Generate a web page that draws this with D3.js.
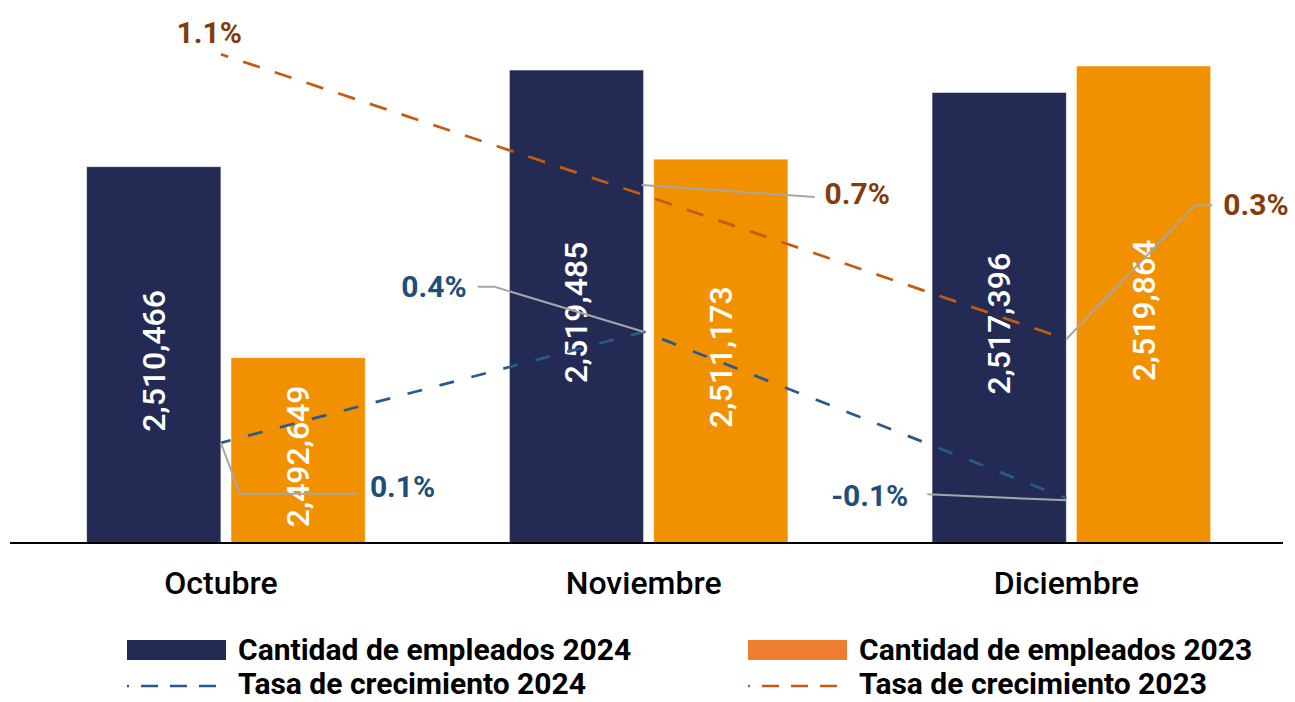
<!DOCTYPE html>
<html>
<head>
<meta charset="utf-8">
<script src="https://cdn.jsdelivr.net/npm/d3@7"></script>
<style>
  html, body { margin: 0; padding: 0; background: #ffffff; }
  svg { display: block; font-family: Roboto, "Noto Sans", sans-serif; }
</style>
</head>
<body>
<svg id="chart" width="1295" height="702"></svg>
<script>
// ---------------- DATA ----------------
const categories = ["Octubre", "Noviembre", "Diciembre"];
const seriesYears = ["2024", "2023"];
const empleados2024 = [2510466, 2519485, 2517396];
const empleados2023 = [2492649, 2511173, 2519864];
const tasa2024 = [0.06, 0.36, -0.09];   // % growth
const tasa2023 = [1.11, 0.73, 0.34];    // % growth
const legendLabels = [
  "Cantidad de empleados 2024",
  "Cantidad de empleados 2023",
  "Tasa de crecimiento 2024",
  "Tasa de crecimiento 2023"
];

// ---------------- STYLE ----------------
const W = 1295, H = 702;
const baseY = 543;
const colBar2024 = "#232B55";
const colBar2023 = "#F29100";
const colLegend2023 = "#ED7D31";
const colLine2024 = "#2A5A8C";
const colLine2023 = "#C55A11";
const colLbl2024 = "#1F4E79";
const colLbl2023 = "#843C0C";
const colLeader = "#A6A6A6";

const loc = d3.formatLocale({decimal: ".", thousands: ",", grouping: [3], currency: ["$", ""], minus: "-"});
const fmtInt = loc.format(",");
const fmtPct = v => loc.format(".1f")(v) + "%";

const svg = d3.select("#chart");
svg.append("rect").attr("width", W).attr("height", H).attr("fill", "#fff");

// scales
const x0 = d3.scaleBand().domain(categories).range([14.6, 1282.7])
  .paddingInner(0.341).paddingOuter(0.1705);
const x1 = d3.scaleBand().domain(seriesYears).range([0, x0.bandwidth()]).paddingInner(0.07);
const y = d3.scaleLinear().domain([2475360, 2521000]).range([baseY, baseY - 45640 / 93.3]);
const y2 = d3.scaleLinear().domain([0, 1]).range([465, 95]);

const rows = categories.map((c, i) => ({
  cat: c,
  vals: [
    {year: "2024", v: empleados2024[i], color: colBar2024},
    {year: "2023", v: empleados2023[i], color: colBar2023}
  ]
}));

// bars
const g = svg.append("g");
const groups = g.selectAll("g.grp").data(rows).join("g")
  .attr("class", "grp")
  .attr("transform", d => `translate(${x0(d.cat)},0)`);

groups.selectAll("rect").data(d => d.vals).join("rect")
  .attr("x", d => x1(d.year))
  .attr("y", d => y(d.v))
  .attr("width", x1.bandwidth())
  .attr("height", d => baseY - y(d.v))
  .attr("fill", d => d.color)
  .attr("stroke", "#ffffff")
  .attr("stroke-opacity", 0.6)
  .attr("stroke-width", 0.8);

groups.selectAll("text").data(d => d.vals).join("text")
  .attr("transform", d => `translate(${x1(d.year) + x1.bandwidth() / 2},${(y(d.v) + baseY) / 2 + 6}) rotate(-90)`)
  .attr("text-anchor", "middle")
  .attr("dominant-baseline", "central")
  .attr("fill", "#ffffff")
  .attr("font-size", 32)
  .attr("font-weight", 500)
  .text(d => fmtInt(d.v));

// axis (baseline + category labels)
const xAxis = d3.axisBottom(x0).tickSize(0).tickPadding(0);
const ax = svg.append("g").attr("transform", `translate(0,${baseY})`).call(xAxis);
ax.select(".domain").attr("d", `M10,0H1283`).attr("stroke", "#000").attr("stroke-width", 2);
ax.selectAll(".tick text")
  .attr("x", -5)
  .attr("y", 51)
  .attr("dy", 0)
  .attr("fill", "#000")
  .attr("font-size", 32)
  .attr("font-weight", 500)
  .attr("font-family", "Roboto, sans-serif");

// growth lines
const px = c => x0(c) + x1("2024") + x1.bandwidth();
const line = d3.line().x(d => px(d.cat)).y(d => y2(d.v));
const lineData24 = categories.map((c, i) => ({cat: c, v: tasa2024[i]}));
const lineData23 = categories.map((c, i) => ({cat: c, v: tasa2023[i]}));

svg.append("path").datum(lineData23)
  .attr("d", line).attr("fill", "none")
  .attr("stroke", colLine2023).attr("stroke-width", 2.75)
  .attr("stroke-dasharray", "17.6,15.8").attr("stroke-dashoffset", 10);
svg.append("path").datum(lineData24)
  .attr("d", line).attr("fill", "none")
  .attr("stroke", colLine2024).attr("stroke-width", 2.75)
  .attr("stroke-dasharray", "15,18").attr("stroke-dashoffset", 5);

// percent labels with leader lines (offsets relative to the data point)
const lblStyle24 = [
  {dx: 149, dy: 54, anchor: "start", leader: [[0, 0], [19, 51], [136, 51]]},
  {dx: -177, dy: -35, anchor: "end", leader: [[0, 0], [-149, -45], [-166, -45]]},
  {dx: -158, dy: 8, anchor: "end", leader: [[0, 2], [-139, -4]]}
];
const lblStyle23 = [
  {dx: 21, dy: -11, anchor: "end", leader: null},
  {dx: 181, dy: 9, anchor: "start", leader: [[-2, -10], [171, 2]]},
  {dx: 157, dy: -124, anchor: "start", leader: [[0, 0], [129, -134], [146, -134]]}
];

function drawLabels(data, styles, color) {
  data.forEach((d, i) => {
    const X = px(d.cat), Y = y2(d.v), s = styles[i];
    if (s.leader) {
      svg.append("path")
        .attr("d", d3.line()(s.leader.map(p => [X + p[0], Y + p[1]])))
        .attr("fill", "none").attr("stroke", colLeader).attr("stroke-width", 2);
    }
    svg.append("text")
      .attr("x", X + s.dx).attr("y", Y + s.dy)
      .attr("text-anchor", s.anchor)
      .attr("fill", color)
      .attr("font-size", 30)
      .attr("font-weight", 700)
      .text(fmtPct(d.v));
  });
}
drawLabels(lineData24, lblStyle24, colLbl2024);
drawLabels(lineData23, lblStyle23, colLbl2023);

// legend
const legend = svg.append("g");
const legItems = [
  {label: legendLabels[0], type: "rect", color: colBar2024, x: 127, y: 650, ty: 660},
  {label: legendLabels[1], type: "rect", color: colLegend2023, x: 748, y: 650, ty: 660},
  {label: legendLabels[2], type: "line", color: colLine2024, x: 127, y: 686, ty: 694},
  {label: legendLabels[3], type: "line", color: colLine2023, x: 748, y: 686, ty: 694}
];
legItems.forEach(it => {
  if (it.type === "rect") {
    legend.append("rect").attr("x", it.x).attr("y", it.y - 10).attr("width", 99).attr("height", 20).attr("fill", it.color);
  } else {
    legend.append("line").attr("x1", it.x).attr("x2", it.x + 99).attr("y1", it.y).attr("y2", it.y)
      .attr("stroke", it.color).attr("stroke-width", 2.5)
      .attr("stroke-dasharray", "17,12").attr("stroke-dashoffset", 15);
  }
  legend.append("text").attr("x", it.x + 111).attr("y", it.ty)
    .attr("fill", "#000").attr("font-size", 30).attr("font-weight", 700)
    .text(it.label);
});
</script>
</body>
</html>
